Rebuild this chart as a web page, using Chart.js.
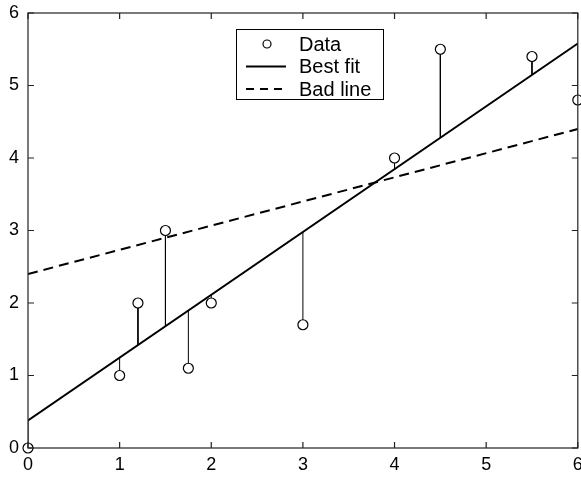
<!DOCTYPE html>
<html>
<head>
<meta charset="utf-8">
<script src="https://cdn.jsdelivr.net/npm/chart.js@4/dist/chart.umd.min.js"></script>
<style>
  html, body { margin: 0; padding: 0; background: #fff; overflow: hidden; }
  #wrap { width: 581px; height: 480px; overflow: hidden; }
</style>
</head>
<body>
<div id="wrap"><canvas id="myChart" width="584" height="480"></canvas></div>
<script>
// data
var dataX = [0, 1, 1.2, 1.5, 1.75, 2, 3, 4, 4.5, 5.5, 6];
var dataY = [0, 1, 2, 3, 1.1, 2, 1.7, 4, 5.5, 5.4, 4.8];
// where each residual stem meets the best fit line
var stemEnd = [0.38, 1.25, 1.42, 1.68, 1.90, 2.11, 2.98, 3.85, 4.28, 5.15, 5.58];
var fitX = [0, 6];
var fitY = [0.38, 5.58];
var badX = [0, 6];
var badY = [2.4, 4.4];
var tickValues = [0, 1, 2, 3, 4, 5, 6];
var legendLabels = ['Data', 'Best fit', 'Bad line'];

var FONT = '"Liberation Sans", Arial, Helvetica, sans-serif';

function pairs(xs, ys) {
    var out = [];
    for (var i = 0; i < xs.length; i++) out.push({x: xs[i], y: ys[i]});
    return out;
}

// stems as one line with gaps between segments
var stemData = [];
for (var i = 0; i < dataX.length; i++) {
    stemData.push({x: dataX[i], y: dataY[i]});
    stemData.push({x: dataX[i], y: stemEnd[i]});
    stemData.push({x: dataX[i], y: null});
}

// frame with inward ticks on all four sides + boxed legend
var framePlugin = {
    id: 'frame',
    afterDraw: function (chart) {
        var ctx = chart.ctx, a = chart.chartArea;
        var xs = chart.scales.x, ys = chart.scales.y;
        ctx.save();
        ctx.strokeStyle = '#222';
        ctx.lineWidth = 1.2;
        ctx.strokeRect(a.left, a.top, a.right - a.left, a.bottom - a.top);
        var tl = 6;
        ctx.beginPath();
        tickValues.forEach(function (v) {
            var px = xs.getPixelForValue(v);
            ctx.moveTo(px, a.bottom); ctx.lineTo(px, a.bottom - tl);
            ctx.moveTo(px, a.top); ctx.lineTo(px, a.top + tl);
            var py = ys.getPixelForValue(v);
            ctx.moveTo(a.left, py); ctx.lineTo(a.left + tl, py);
            ctx.moveTo(a.right, py); ctx.lineTo(a.right - tl, py);
        });
        ctx.stroke();

        // legend box
        var bx = 236, by = 29, bw = 147, bh = 70, rowH = 22.5;
        ctx.fillStyle = '#fff';
        ctx.fillRect(bx, by, bw, bh);
        ctx.strokeStyle = '#000';
        ctx.lineWidth = 1;
        ctx.strokeRect(bx + 0.5, by + 0.5, bw, bh);
        ctx.font = '20px ' + FONT;
        ctx.textBaseline = 'middle';
        ctx.textAlign = 'left';
        legendLabels.forEach(function (lab, k) {
            var cy = by + 15 + k * rowH;
            ctx.strokeStyle = '#000';
            ctx.setLineDash([]);
            if (k === 0) {
                ctx.lineWidth = 1.2;
                ctx.beginPath();
                ctx.arc(bx + 31, cy, 4, 0, Math.PI * 2);
                ctx.stroke();
            } else {
                ctx.lineWidth = 2;
                if (k === 2) ctx.setLineDash([8, 6]);
                ctx.beginPath();
                ctx.moveTo(bx + 10, cy);
                ctx.lineTo(bx + 50, cy);
                ctx.stroke();
            }
            ctx.setLineDash([]);
            ctx.fillStyle = '#000';
            ctx.fillText(lab, bx + 63, cy + 1);
        });
        ctx.restore();
    }
};

function noLabelPadding(scale) {
    scale.paddingLeft = 0;
    scale.paddingRight = 0;
    scale.paddingTop = 0;
    scale.paddingBottom = 0;
}

var ctx = document.getElementById('myChart');

var myChart = new Chart(ctx, {
    type: 'scatter',
    data: {
        datasets: [
            {
                label: 'stems',
                data: stemData,
                showLine: true,
                spanGaps: false,
                borderColor: '#000',
                borderWidth: 1,
                pointRadius: 0,
                order: 3
            },
            {
                label: 'Best fit',
                data: pairs(fitX, fitY),
                showLine: true,
                borderColor: '#000',
                borderWidth: 2,
                pointRadius: 0,
                order: 2
            },
            {
                label: 'Bad line',
                data: pairs(badX, badY),
                showLine: true,
                borderColor: '#000',
                borderWidth: 2,
                borderDash: [10, 6],
                pointRadius: 0,
                order: 2
            },
            {
                label: 'Data',
                data: pairs(dataX, dataY),
                showLine: false,
                pointRadius: 5,
                pointBorderWidth: 1.2,
                pointBorderColor: '#000',
                pointBackgroundColor: '#fff',
                clip: false,
                order: 1
            }
        ]
    },
    options: {
        responsive: false,
        animation: false,
        events: [],
        layout: { padding: { top: 13, right: 0, left: 0, bottom: 0 } },
        plugins: {
            legend: { display: false },
            tooltip: { enabled: false }
        },
        scales: {
            x: {
                type: 'linear',
                min: 0,
                max: 6,
                grid: { display: false, drawTicks: false },
                border: { display: false },
                ticks: {
                    stepSize: 1,
                    color: '#000',
                    padding: 6,
                    maxRotation: 0,
                    font: { family: FONT, size: 18 }
                },
                afterFit: function (scale) { scale.height = 32; noLabelPadding(scale); }
            },
            y: {
                type: 'linear',
                min: 0,
                max: 6,
                grid: { display: false, drawTicks: false },
                border: { display: false },
                ticks: {
                    stepSize: 1,
                    color: '#000',
                    padding: 9,
                    font: { family: FONT, size: 18 }
                },
                afterFit: function (scale) { scale.width = 28; noLabelPadding(scale); }
            }
        }
    },
    plugins: [framePlugin]
});
</script>
</body>
</html>
